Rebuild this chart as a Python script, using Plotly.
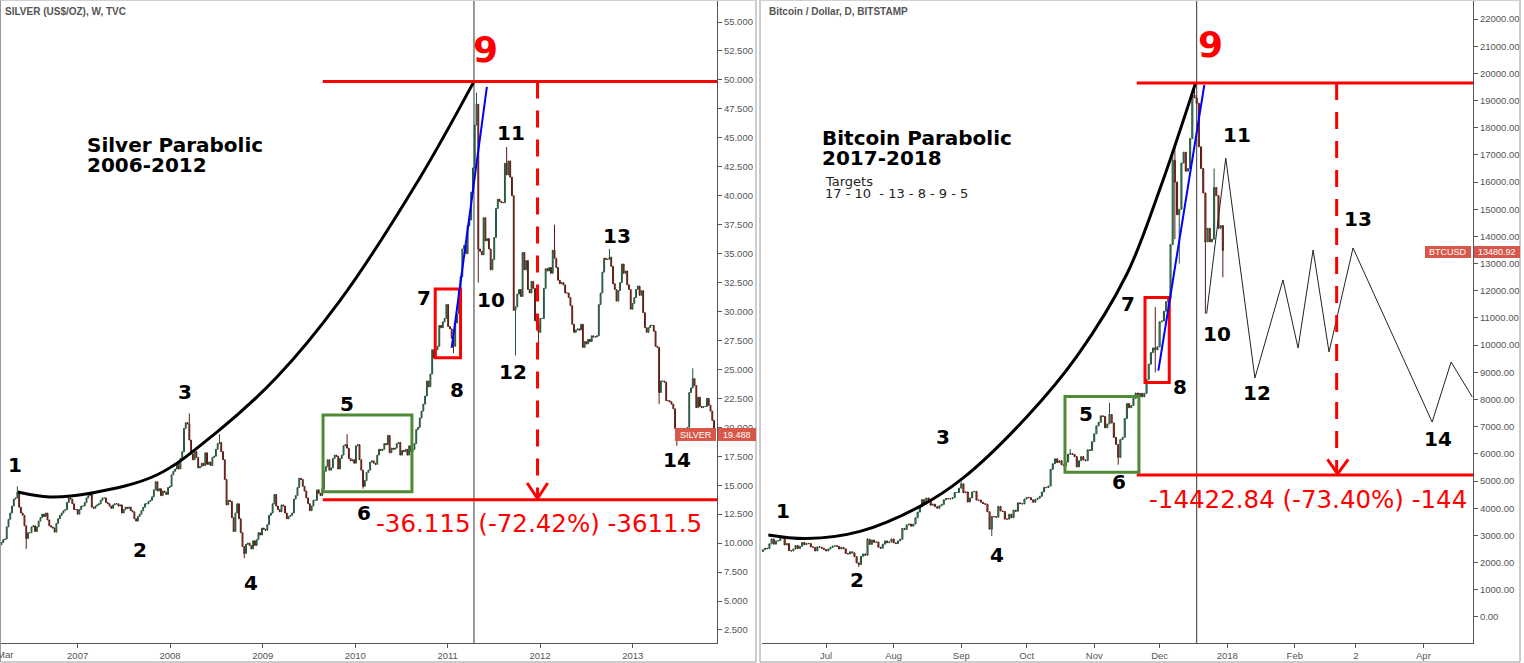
import plotly.graph_objects as go
import pandas as pd

W, H = 1524, 663

# ---------------- Silver (TVC) weekly closes, weeks starting 2006-02-27 ----------------
silver_start = "2006-02-27"
silver_first_open = 9.65
silver_2006 = [9.85, 10.05, 10.30, 10.35, 11.40, 12.05, 12.60, 13.20, 13.80, 13.90, 14.40, 13.10, 12.60, 12.40,
               11.50, 10.40, 10.90, 10.90, 11.40, 11.50, 11.00, 11.40, 11.90, 12.20, 12.50, 12.30, 12.60, 12.00,
               11.50, 11.40, 11.30, 10.95, 11.70, 12.10, 12.40, 12.60, 12.80, 12.90, 13.50, 13.90, 13.80, 13.40,
               12.90, 12.90]
silver_2007 = [12.50, 12.90, 13.20, 13.20, 13.50, 13.90, 14.10, 14.40, 13.10, 13.00, 13.20, 13.30, 13.40, 13.70,
               13.90, 13.90, 13.50, 13.40, 13.20, 13.00, 13.30, 13.40, 13.40, 13.20, 13.30, 12.60, 12.90, 13.10,
               13.00, 13.10, 12.80, 12.70, 12.10, 11.90, 12.30, 12.50, 12.80, 13.10, 13.40, 13.40, 13.60, 13.70,
               14.00, 14.60, 15.30, 14.50, 14.70, 14.10, 14.50, 14.40, 14.20, 14.80, 14.90]
silver_2008 = [15.90, 16.20, 16.40, 16.90, 16.40, 17.30, 17.90, 19.90, 20.40, 20.30, 18.90, 17.70, 17.20, 17.90,
               17.40, 16.50, 16.60, 16.90, 16.70, 17.80, 16.80, 17.00, 16.70, 17.40, 17.50, 18.10, 18.60, 18.70,
               17.90, 17.20, 15.50, 13.30, 13.70, 13.60, 12.20, 11.00, 12.60, 13.40, 12.10, 10.90, 9.70, 9.10,
               9.90, 10.00, 9.80, 9.50, 10.20, 9.80, 10.30, 10.90, 10.70, 11.30]
silver_2009 = [11.20, 11.10, 11.60, 12.40, 12.60, 13.40, 14.20, 13.20, 12.90, 12.70, 13.30, 13.20, 12.60, 12.10,
               12.30, 12.40, 12.60, 13.80, 14.10, 14.80, 15.60, 15.50, 14.90, 14.50, 13.90, 13.40, 12.80, 13.20,
               13.70, 13.70, 14.60, 14.30, 14.10, 14.70, 16.20, 16.60, 17.20, 16.30, 16.50, 17.30, 17.60, 17.50,
               16.40, 17.30, 17.60, 18.40, 18.50, 18.20, 17.30, 17.10, 17.20, 16.90]
silver_2010 = [18.40, 18.50, 17.20, 16.30, 14.90, 15.40, 16.10, 16.30, 17.00, 17.10, 16.90, 16.80, 17.60, 18.10,
               18.00, 18.10, 18.60, 18.50, 19.30, 17.80, 18.20, 18.10, 18.20, 18.60, 18.70, 17.60, 18.00, 17.90,
               18.10, 17.60, 18.40, 17.90, 18.10, 18.60, 19.80, 20.00, 20.80, 21.40, 22.00, 22.70, 24.00, 23.50,
               24.60, 26.70, 26.00, 26.70, 27.00, 28.80, 28.60, 29.10, 29.40, 30.60]
silver_2011 = [28.70, 28.50, 27.70, 27.00, 29.00, 29.80, 32.00, 33.00, 35.40, 35.70, 35.00, 37.40, 37.90, 40.30,
               42.40, 46.10, 47.90, 35.40, 35.20, 34.90, 38.10, 36.10, 36.30, 35.40, 33.60, 34.50, 36.40, 38.90,
               39.70, 39.50, 39.40, 39.40, 42.80, 41.80, 43.00, 41.60, 40.00, 30.10, 30.40, 31.50, 31.90, 31.30,
               35.10, 33.60, 34.40, 31.90, 31.60, 32.60, 32.00, 29.20, 29.00, 28.20]
silver_2012 = [29.40, 29.40, 32.00, 33.70, 33.50, 33.80, 33.30, 35.30, 34.60, 33.80, 32.70, 32.40, 32.50, 32.30,
               31.60, 31.60, 31.20, 30.50, 28.90, 28.20, 28.40, 28.50, 28.40, 28.90, 26.90, 27.40, 27.20, 27.60,
               27.40, 27.90, 27.80, 27.80, 27.90, 30.60, 31.60, 33.40, 34.60, 34.50, 34.50, 34.70, 33.90, 32.40,
               31.90, 30.90, 31.80, 32.50, 34.10, 33.30, 33.50, 32.30, 31.90, 30.20, 30.70]
silver_2013 = [31.20, 31.90, 32.20, 31.40, 31.80, 29.90, 28.60, 28.20, 28.60, 28.80, 28.80, 28.30, 27.00, 26.90,
               23.00, 24.00, 24.00, 23.90, 22.30, 22.30, 22.20, 22.00, 21.60, 19.90, 19.70, 19.10, 19.80, 19.90,
               19.60, 19.40, 20.00, 23.00, 23.40, 24.20, 23.60, 21.70, 22.60, 21.80, 21.70, 21.80, 21.80, 22.50,
               21.90, 21.40, 20.60, 19.488]
silver_high_wicks = {"2006-05-08": 14.9, "2008-03-17": 21.2, "2008-07-14": 19.4, "2009-11-30": 19.4,
                     "2011-04-25": 48.9, "2011-08-22": 44.2, "2012-02-27": 37.5, "2012-10-01": 35.4,
                     "2013-08-26": 25.1}
silver_low_wicks = {"2006-06-12": 9.5, "2008-10-20": 8.7, "2010-02-01": 14.7, "2011-01-24": 26.4,
                    "2011-05-02": 32.5, "2011-09-26": 26.2, "2011-12-26": 26.9, "2013-04-15": 22.0,
                    "2013-06-24": 18.4}

# ---------------- Bitcoin (Bitstamp) daily closes from 2017-06-01 ----------------
btc_start = "2017-06-01"
btc_first_open = 2330
btc_jun = [2408, 2478, 2530, 2515, 2690, 2870, 2680, 2795, 2808, 2900, 2960, 2650, 2700, 2440, 2430, 2500,
           2630, 2520, 2600, 2740, 2660, 2710, 2700, 2580, 2560, 2430, 2580, 2570, 2530, 2480]
btc_jul = [2430, 2500, 2560, 2610, 2620, 2600, 2500, 2560, 2510, 2340, 2320, 2400, 2360, 2220, 1990, 1930,
           2230, 2320, 2270, 2860, 2670, 2830, 2750, 2760, 2570, 2530, 2680, 2800, 2730, 2760, 2870]
btc_aug = [2730, 2700, 2800, 2860, 3260, 3220, 3390, 3420, 3340, 3420, 3650, 3860, 4060, 4320, 4160, 4380,
           4290, 4110, 4150, 4060, 4000, 4090, 4140, 4310, 4360, 4350, 4350, 4390, 4580, 4580, 4740]
btc_sep = [4900, 4570, 4600, 4230, 4380, 4600, 4620, 4300, 4300, 4220, 4170, 4150, 3870, 3230, 3700, 3690,
           3670, 4070, 3900, 3880, 3600, 3600, 3780, 3650, 3930, 3890, 4200, 4170, 4160, 4340]
btc_oct = [4400, 4390, 4310, 4220, 4320, 4370, 4440, 4600, 4770, 4760, 4820, 5430, 5640, 5820, 5680, 5750,
           5600, 5570, 5700, 5990, 6010, 5980, 5900, 5520, 5750, 5900, 5780, 5750, 6150, 6130, 6450]
btc_nov = [6740, 7030, 7160, 7400, 7380, 6960, 7100, 7450, 7140, 6610, 6350, 5870, 6530, 6610, 7300, 7850,
           7700, 7780, 8040, 8240, 8100, 8230, 8100, 8230, 8740, 9300, 9730, 9900, 9830, 9940]
btc_dec = [10860, 10890, 11250, 11600, 11700, 13700, 16800, 16000, 14800, 15000, 16700, 17100, 16400, 16500,
           17600, 19200, 19100, 18900, 17300, 16500, 15600, 13800, 14300, 13800, 13900, 15800, 15500, 14300,
           14400, 13480.92]
btc_high_wicks = {"2017-06-11": 2990, "2017-07-20": 2900, "2017-09-01": 4980, "2017-10-12": 5450,
                  "2017-10-21": 6180, "2017-11-08": 7880, "2017-11-29": 11400, "2017-12-07": 17200,
                  "2017-12-08": 17300, "2017-12-17": 19660, "2017-12-26": 16500}
btc_low_wicks = {"2017-07-16": 1840, "2017-09-15": 2980, "2017-11-12": 5600, "2017-11-29": 9000,
                 "2017-12-08": 13900, "2017-12-10": 13000, "2017-12-22": 11160, "2017-12-30": 12500}

# ---------------- Drawings ----------------
silver_curve_dates = ["2006-05-10", "2006-09-13", "2007-02-26", "2007-11-09", "2008-07-04", "2009-02-26",
                      "2009-11-01", "2010-09-13", "2011-04-15"]
silver_curve_vals = [14.41, 13.98, 14.33, 15.88, 19.59, 24.34, 30.91, 41.53, 49.87]
btc_curve_dates = ["2017-06-04 12:00", "2017-06-22 02:00", "2017-07-16 14:00", "2017-08-13 02:00",
                   "2017-09-01 22:00", "2017-10-01", "2017-10-24", "2017-11-15 22:00", "2017-12-01 05:00",
                   "2017-12-17 12:00"]
btc_curve_vals = [3017, 2885, 3149, 4069, 5118, 7358, 9588, 12609, 15762, 19650]
btc_path_dates = ["2017-12-22 14:00", "2017-12-31 08:00", "2018-01-13 17:00", "2018-01-26 14:00",
                  "2018-02-02 12:00", "2018-02-09 10:00", "2018-02-16 17:00", "2018-02-27 17:00",
                  "2018-04-05", "2018-04-13 17:00", "2018-04-23 10:00"]
btc_path_vals = [11163, 16880, 8793, 12399, 9897, 13503, 9750, 13576, 7174, 9382, 8094]

silver_top, silver_bottom = 49.87, 13.755
btc_top, btc_bottom = 19650, 5227


def ohlc(start, freq, first_open, closes, hi_w, lo_w):
    dates = pd.date_range(start, periods=len(closes), freq=freq)
    opens = [first_open] + closes[:-1]
    highs, lows = [], []
    for d, o, c in zip(dates, opens, closes):
        key = d.strftime("%Y-%m-%d")
        highs.append(max(hi_w.get(key, 0), o, c))
        lows.append(min(lo_w.get(key, 1e9), o, c))
    return dates, opens, highs, lows, closes


silver_closes = (silver_2006 + silver_2007 + silver_2008 + silver_2009 + silver_2010 + silver_2011
                 + silver_2012 + silver_2013)
btc_closes = btc_jun + btc_jul + btc_aug + btc_sep + btc_oct + btc_nov + btc_dec
s_d, s_o, s_h, s_l, s_c = ohlc(silver_start, "7D", silver_first_open, silver_closes,
                               silver_high_wicks, silver_low_wicks)
b_d, b_o, b_h, b_l, b_c = ohlc(btc_start, "D", btc_first_open, btc_closes, btc_high_wicks, btc_low_wicks)

UP_FILL, UP_LINE, DN_FILL, DN_LINE = "#6ba583", "#225437", "#d75442", "#5b1a13"
RED, GREEN, BLUE = "#ff0000", "#4f8a36", "#0000ff"

fig = go.Figure()
for (d, o, h, l, c, xa, ya) in [(s_d, s_o, s_h, s_l, s_c, "x", "y"), (b_d, b_o, b_h, b_l, b_c, "x2", "y2")]:
    fig.add_trace(go.Candlestick(
        x=d, open=o, high=h, low=l, close=c, xaxis=xa, yaxis=ya, whiskerwidth=0,
        increasing=dict(line=dict(color=UP_LINE, width=1), fillcolor=UP_FILL),
        decreasing=dict(line=dict(color=DN_LINE, width=1), fillcolor=DN_FILL),
        showlegend=False, hoverinfo="skip"))

# parabolic curves
fig.add_trace(go.Scatter(x=silver_curve_dates, y=silver_curve_vals, mode="lines", xaxis="x", yaxis="y",
                         line=dict(color="black", width=3, shape="spline", smoothing=1.0),
                         showlegend=False, hoverinfo="skip"))
fig.add_trace(go.Scatter(x=btc_curve_dates, y=btc_curve_vals, mode="lines", xaxis="x2", yaxis="y2",
                         line=dict(color="black", width=3, shape="spline", smoothing=1.0),
                         showlegend=False, hoverinfo="skip"))
# projected path
fig.add_trace(go.Scatter(x=btc_path_dates, y=btc_path_vals, mode="lines", xaxis="x2", yaxis="y2",
                         line=dict(color="#222222", width=1), showlegend=False, hoverinfo="skip"))

shapes = []


def line(xr, yr, x0, y0, x1, y1, color, width, dash=None, layer="above"):
    d = dict(type="line", xref=xr, yref=yr, x0=x0, y0=y0, x1=x1, y1=y1,
             line=dict(color=color, width=width), layer=layer)
    if dash:
        d["line"]["dash"] = dash
    shapes.append(d)


def rect(xr, yr, x0, y0, x1, y1, color, width=3, fill=None, layer="above"):
    d = dict(type="rect", xref=xr, yref=yr, x0=x0, y0=y0, x1=x1, y1=y1,
             line=dict(color=color, width=width), layer=layer)
    if fill:
        d["fillcolor"] = fill
    shapes.append(d)


S_END = "2013-11-29 15:00"
B_END = "2018-04-23 18:00"
# --- silver drawings
line("x", "y domain", "2011-04-15", 0, "2011-04-15", 1, "#333333", 1, layer="below")
line("x", "y", "2009-08-26", silver_top, S_END, silver_top, RED, 3)
line("x", "y", "2009-08-26", silver_bottom, S_END, silver_bottom, RED, 3)
line("x", "y", "2011-12-22", silver_top, "2011-12-22", silver_bottom + 0.15, RED, 3, dash="17px,12px")
line("x", "y", "2011-11-11", 15.19, "2011-12-22", silver_bottom + 0.1, RED, 3)
line("x", "y", "2012-01-31", 15.19, "2011-12-22", silver_bottom + 0.1, RED, 3)
rect("x", "y", "2009-08-27", 14.44, "2010-08-13", 21.06, GREEN)
rect("x", "y", "2010-11-13", 26.0, "2011-02-21", 31.94, RED)
line("x", "y", "2011-01-17", 26.85, "2011-06-05", 49.4, BLUE, 2)
# --- bitcoin drawings
line("x2", "y2 domain", "2017-12-18", 0, "2017-12-18", 1, "#333333", 1, layer="below")
line("x2", "y2", "2017-11-20 12:00", btc_top, B_END, btc_top, RED, 3)
line("x2", "y2", "2017-11-20 12:00", btc_bottom, B_END, btc_bottom, RED, 3)
line("x2", "y2", "2018-02-20 05:00", btc_top, "2018-02-20 05:00", btc_bottom + 60, RED, 3, dash="17px,12px")
line("x2", "y2", "2018-02-16", 5802, "2018-02-20 16:00", btc_bottom + 40, RED, 3)
line("x2", "y2", "2018-02-25 12:00", 5802, "2018-02-20 16:00", btc_bottom + 40, RED, 3)
rect("x2", "y2", "2017-10-18 14:00", 5324, "2017-11-21 12:00", 8116, GREEN)
rect("x2", "y2", "2017-11-24 07:00", 8628, "2017-12-05 10:00", 11755, RED)
line("x2", "y2", "2017-11-30 10:00", 9062, "2017-12-21 12:00", 19573, BLUE, 2)


def px(x):
    return x / W


def py(y):
    return 1 - y / H


# panel frames
FR = "#9a9a9a"
for x0, x1 in [(0.5, 756), (760, 1520)]:
    line("paper", "paper", px(x0), py(662), px(x1), py(662), FR, 1)
    line("paper", "paper", px(x0), py(662), px(x0), py(0), FR, 1)
    line("paper", "paper", px(x1), py(662), px(x1), py(0), FR, 1)
    line("paper", "paper", px(x0), py(0.5), px(x1), py(0.5), "#d0d0d0", 1)

# price labels
LBL = "#d9574a"
rect("paper", "paper", px(675), py(441), px(716), py(428), LBL, 0, fill=LBL)
rect("paper", "paper", px(718), py(441), px(756), py(428), LBL, 0, fill=LBL)
rect("paper", "paper", px(1425), py(258), px(1471), py(246), LBL, 0, fill=LBL)
rect("paper", "paper", px(1474), py(258), px(1520), py(246), LBL, 0, fill=LBL)

annotations = []


def ann(text, x, y, size=20, color="black", family="DejaVu Sans", xanchor="center", bold=True):
    annotations.append(dict(text=f"<b>{text}</b>" if bold else text, x=px(x), y=py(y), xref="paper",
                            yref="paper", showarrow=False, xanchor=xanchor, yanchor="middle",
                            font=dict(family=family, size=size, color=color)))


ann("SILVER (US$/OZ), W, TVC", 3, 11, size=10, color="#555555", family="Liberation Sans", xanchor="left")
ann("Bitcoin / Dollar, D, BITSTAMP", 767, 11, size=10, color="#555555", family="Liberation Sans",
    xanchor="left")
ann("Silver Parabolic", 85, 144.5, xanchor="left")
ann("2006-2012", 85, 165, xanchor="left")
ann("Bitcoin Parabolic", 820, 137.5, xanchor="left")
ann("2017-2018", 820, 158, xanchor="left")
ann("Targets", 823, 181.6, size=13, color="#222222", xanchor="left", bold=False)
ann("17 - 10  - 13 - 8 - 9 - 5", 823, 193, size=13, color="#222222", xanchor="left", bold=False)

# measurement readouts (right one is cut by the price scale in the original)
ann("-36.115 (-72.42%) -3611.5", 538.7, 523.3, size=24.5, color=RED, bold=False)
ann("-14422.84 (-73.40%) -144", 1147, 499, size=24.5, color=RED, xanchor="left", bold=False)

silver_wave_labels = ["1", "2", "3", "4", "5", "6", "7", "8", "10", "11", "12", "13", "14"]
silver_wave_xy = [(15, 465), (140, 550), (185, 392), (251, 583), (347, 404), (364, 513), (424, 298),
                  (457, 390), (491, 300), (511, 133), (513, 372), (617, 236), (677, 460)]
btc_wave_labels = ["1", "2", "3", "4", "5", "6", "7", "8", "10", "11", "12", "13", "14"]
btc_wave_xy = [(783, 511), (857, 580), (943, 437), (997, 555), (1086, 414), (1119, 482), (1128, 304),
               (1180, 387), (1217, 334), (1237, 135), (1257, 393), (1358, 219), (1438, 439)]
for t, (x, y) in zip(silver_wave_labels + btc_wave_labels, silver_wave_xy + btc_wave_xy):
    ann(t, x, y)
ann("9", 485, 50, size=36, color=RED)
ann("9", 1210, 45, size=36, color=RED)

ann("SILVER", 695.5, 434.5, size=9, color="white", family="Liberation Sans", bold=False)
ann("19.488", 737, 434.5, size=9, color="white", family="Liberation Sans", bold=False)
ann("BTCUSD", 1448, 252, size=9, color="white", family="Liberation Sans", bold=False)
ann("13480.92", 1497, 252, size=9, color="white", family="Liberation Sans", bold=False)
# first month label, partly cut by the left edge as in the original
ann("Mar", 5, 654.5, size=9.5, color="#555555", family="Liberation Sans", bold=False)

TICKFONT = dict(family="Liberation Sans", size=9.5, color="#555555")
silver_ticks = [2.5 * i for i in range(1, 23)]
btc_ticks = [1000 * i for i in range(0, 23)]
silver_xtick_vals = ["2006-03-01", "2007-01-01", "2008-01-01", "2009-01-01", "2010-01-01", "2011-01-01",
                     "2012-01-01", "2013-01-01"]
silver_xtick_text = ["", "2007", "2008", "2009", "2010", "2011", "2012", "2013"]
btc_xtick_vals = ["2017-07-01", "2017-08-01", "2017-09-01", "2017-10-01", "2017-11-01", "2017-12-01",
                  "2018-01-01", "2018-02-01", "2018-03-01", "2018-04-01"]
btc_xtick_text = ["Jul", "Aug", "Sep", "Oct", "Nov", "Dec", "2018", "Feb", "2", "Apr"]

ydom = [1 - 643 / H, 1]
common_x = dict(type="date", showgrid=False, zeroline=False, showline=True, linecolor="#555555", linewidth=1,
                ticks="outside", ticklen=4, tickcolor="#555555", tickfont=TICKFONT,
                rangeslider=dict(visible=False), fixedrange=True)
common_y = dict(showgrid=False, zeroline=False, showline=True, linecolor="#555555", linewidth=1,
                side="right", ticks="outside", ticklen=4, tickcolor="#555555", tickfont=TICKFONT,
                fixedrange=True, domain=ydom)

fig.update_layout(
    width=W, height=H, margin=dict(l=0, r=0, t=0, b=0),
    paper_bgcolor="white", plot_bgcolor="white", showlegend=False,
    xaxis=dict(common_x, domain=[0, 717 / W], range=["2006-02-28 10:00", S_END], anchor="y",
               tickvals=silver_xtick_vals, ticktext=silver_xtick_text),
    yaxis=dict(common_y, range=[1.374, 56.90], anchor="x", tickvals=silver_ticks,
               ticktext=[f"{v:.3f}" for v in silver_ticks]),
    xaxis2=dict(common_x, domain=[762 / W, 1473 / W], range=["2017-06-01 14:24", B_END], anchor="y2",
                tickvals=btc_xtick_vals, ticktext=btc_xtick_text),
    yaxis2=dict(common_y, range=[-957, 22699], anchor="x2", tickvals=btc_ticks,
                ticktext=[f"{v:.2f}" for v in btc_ticks]),
    shapes=shapes, annotations=annotations,
)

fig.write_html("out.html")
